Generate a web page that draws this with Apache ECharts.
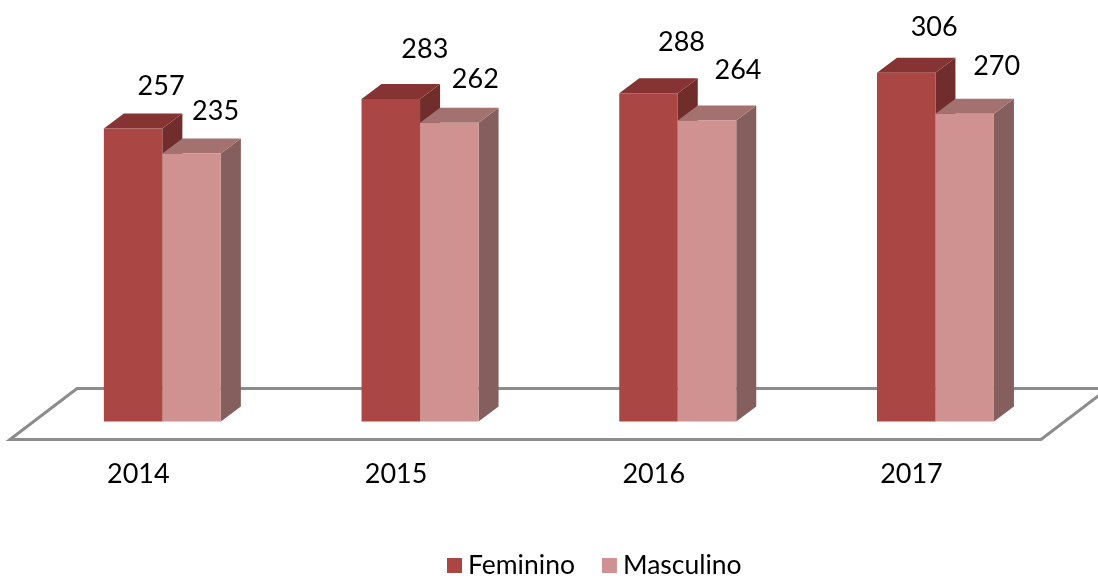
<!DOCTYPE html>
<html>
<head>
<meta charset="utf-8">
<style>
    html, body { margin: 0; padding: 0; background: #fff; }
    #chart { width: 1098px; height: 576px; }
</style>
<script src="https://cdn.jsdelivr.net/npm/echarts@6/dist/echarts.min.js"></script>
</head>
<body>
<div id="chart"></div>
<script>
const categories = ['2014', '2015', '2016', '2017'];
const feminino = [257, 283, 288, 306];
const masculino = [235, 262, 264, 270];

// label offsets from the bar's front face centre, the labels don't sit evenly
const femLabelDx = [28, 34, 33, 28];
const femLabelDy = [-43, -51, -52, -46];
const mascLabelDx = [24, 26, 31, 32];
const mascLabelDy = [-43, -45, -51, -48];

const FONT = 'Lato';
const BAR = 58.5;
const DEPTH_X = 20;
const DEPTH_Y = 15;

function bar3d(side, colors, labelDx, labelDy) {
    return function (params, api) {
        const i = api.value(0);
        const val = api.value(1);
        const top = api.coord([i, val]);
        const base = api.coord([i, 0]);
        const x0 = side === 0 ? top[0] - BAR : top[0];
        const x1 = x0 + BAR;
        const y0 = top[1];
        const y1 = base[1];
        const poly = (points, fill) => ({ type: 'polygon', shape: { points }, style: { fill } });
        return {
            type: 'group',
            children: [
                poly([[x1, y0], [x1 + DEPTH_X, y0 - DEPTH_Y], [x1 + DEPTH_X, y1 - DEPTH_Y], [x1, y1]], colors.side),
                poly([[x0, y0], [x0 + DEPTH_X, y0 - DEPTH_Y], [x1 + DEPTH_X, y0 - DEPTH_Y], [x1, y0]], colors.top),
                { type: 'rect', shape: { x: x0, y: y0, width: BAR, height: y1 - y0 }, style: { fill: colors.front } },
                {
                    type: 'text',
                    style: {
                        text: String(val),
                        x: (x0 + x1) / 2 + labelDx[i],
                        y: y0 + labelDy[i] + 1,
                        align: 'center',
                        verticalAlign: 'middle',
                        fill: '#000',
                        font: '27px ' + FONT
                    }
                }
            ]
        };
    };
}

const chart = echarts.init(document.getElementById('chart'), null, { renderer: 'canvas' });
chart.setOption({
    animation: false,
    backgroundColor: '#fff',
    grid: { left: 33.5, right: 33.7, top: 22.5, bottom: 154.5 },
    xAxis: {
        type: 'category',
        data: categories,
        axisLine: { show: false },
        axisTick: { show: false },
        axisLabel: { margin: 39.5, color: '#000', fontFamily: FONT, fontSize: 27, padding: [0, 48, 0, 0] }
    },
    yAxis: { type: 'value', min: 0, max: 350, show: false },
    legend: {
        left: 447,
        top: 552,
        padding: 0,
        itemWidth: 15,
        itemHeight: 15,
        itemGap: 27,
        selectedMode: false,
        textStyle: { color: '#000', fontFamily: FONT, fontSize: 26.5, padding: [0, 0, 0, 1] },
        data: [
            { name: 'Feminino', icon: 'rect' },
            { name: 'Masculino', icon: 'rect' }
        ]
    },
    // the floor the bars stand on
    graphic: [{
        type: 'polygon',
        z: 0,
        shape: { points: [[10, 439.5], [77, 388.5], [1108, 388.5], [1041, 439.5]] },
        style: { fill: '#fff', stroke: '#8c8c8c', lineWidth: 3 }
    }],
    series: [
        {
            name: 'Feminino',
            type: 'custom',
            itemStyle: { color: '#AA4643' },
            renderItem: bar3d(0, { front: '#AA4643', top: '#863433', side: '#702D2B' }, femLabelDx, femLabelDy),
            data: feminino.map((v, i) => [i, v]),
            encode: { x: 0, y: 1 }
        },
        {
            name: 'Masculino',
            type: 'custom',
            itemStyle: { color: '#D09291' },
            renderItem: bar3d(1, { front: '#D09291', top: '#A27170', side: '#855F5E' }, mascLabelDx, mascLabelDy),
            data: masculino.map((v, i) => [i, v]),
            encode: { x: 0, y: 1 }
        }
    ]
});
</script>
</body>
</html>
